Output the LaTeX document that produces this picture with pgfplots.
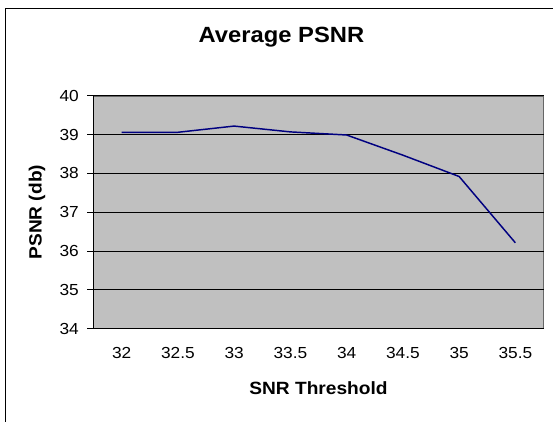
\documentclass[border=0pt]{standalone}
\usepackage{fontspec}
\setmainfont{Liberation Sans}[FakeStretch=1.08]
\usepackage{pgfplots}
\pgfplotsset{compat=1.18}
\usetikzlibrary{calc}
\definecolor{plotbg}{HTML}{C0C0C0}
\definecolor{navyline}{HTML}{000080}
\begin{document}
\begin{tikzpicture}
\begin{axis}[
  name=ax,
  scale only axis, width=337.5pt, height=174.5pt,
  xmin=-0.5, xmax=7.5, ymin=34, ymax=40,
  ytick={34,35,36,37,38,39,40},
  xtick={0,...,7},
  xticklabels={32,32.5,33,33.5,34,34.5,35,35.5},
  minor xtick={-0.5,0.5,1.5,2.5,3.5,4.5,5.5,6.5,7.5},
  xtick style={draw=none},
  minor tick length=4.5pt, major tick length=4.5pt,
  tick align=outside,
  tick style={black, line width=0.6pt},
  minor tick style={black, line width=0.6pt},
  axis x line*=bottom, axis y line*=left,
  axis line style={black, line width=0.8pt, -},
  axis background/.style={fill=plotbg, draw=gray!80!black},
  ymajorgrids, grid style={black, line width=0.6pt},
  /pgf/number format/assume math mode=true,
  ticklabel style={font=\fontsize{12}{14}\selectfont},
  xticklabel style={yshift=-6pt},
  yticklabel style={xshift=-3pt},
  xlabel={SNR Threshold},
  ylabel={PSNR (db)},
  xlabel style={font=\bfseries\fontsize{13.3}{15}\selectfont, at={(axis description cs:0.5,-0.256)}, anchor=center},
  ylabel style={font=\bfseries\fontsize{13.3}{15}\selectfont, at={(axis description cs:-0.1255,0.5)}, anchor=center},
  clip=false,
]
\addplot[navyline, line width=1.1pt, mark=none] coordinates {
  (0,39.06) (1,39.06) (2,39.22) (3,39.07) (4,38.99) (5,38.47) (6,37.92) (7,36.21)
};
\end{axis}
\pgfresetboundingbox
\coordinate (O) at ($(ax.south west)+(-70.125pt,-69.375pt)$);
\useasboundingbox (O) rectangle ++(414.75pt,315.75pt);
\node[font=\bfseries\fontsize{16.5}{18}\selectfont, anchor=base] at ($(O)+(211.1pt,283.5pt)$) {Average PSNR};
\draw[line width=1.1pt,black] ($(O)+(4.1pt,-2pt)$) -- ($(O)+(4.1pt,309.5pt)$) -- ($(O)+(416pt,309.5pt)$);
\end{tikzpicture}
\end{document}
